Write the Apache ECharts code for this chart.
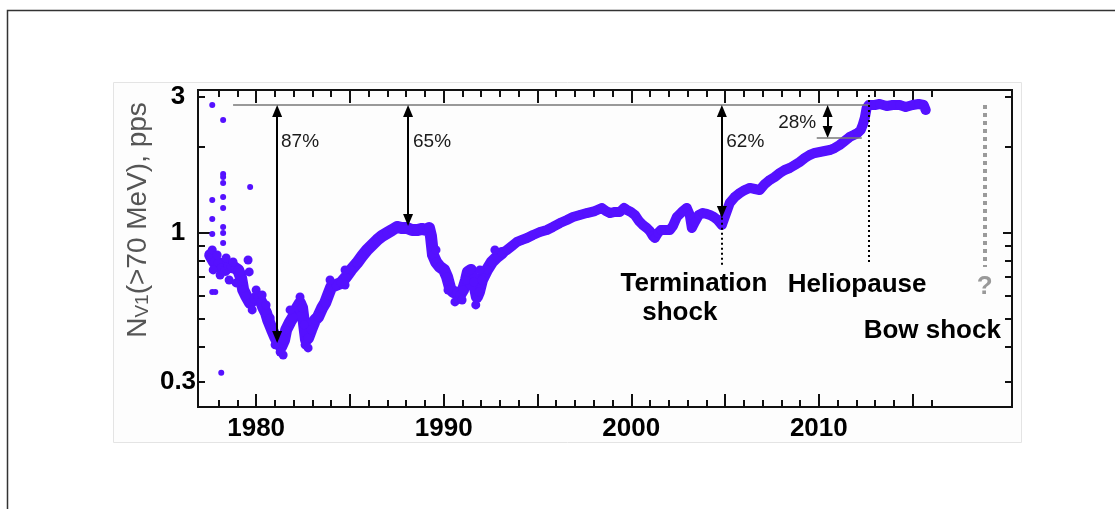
<!DOCTYPE html>
<html>
<head>
<meta charset="utf-8">
<script src="https://cdn.jsdelivr.net/npm/echarts@6/dist/echarts.min.js"></script>
<style>
  html, body { margin: 0; padding: 0; background: #ffffff; }
  #chart { width: 1115px; height: 509px; }
</style>
</head>
<body>
<div id="chart"></div>
<script>
// Voyager 1 count rate of protons above 70 MeV (pulses per second), by year.
const years = [
  1977.55, 1977.60, 1977.76, 1977.98, 1978.14, 1978.35, 1978.51, 1978.67, 1978.88, 1979.04,
  1979.20, 1979.31, 1979.47, 1979.68, 1979.89, 1980.11, 1980.27, 1980.37, 1980.53, 1980.64,
  1980.85, 1981.01, 1981.17, 1981.33, 1981.49, 1981.60, 1981.81, 1981.97, 1982.18, 1982.34,
  1982.45, 1982.56, 1982.66, 1982.77, 1982.93, 1983.14, 1983.30, 1983.52, 1983.68, 1983.84,
  1984.00, 1984.26, 1984.53, 1984.79, 1985.06, 1985.38, 1985.65, 1985.91, 1986.18, 1986.45,
  1986.71, 1986.98, 1987.25, 1987.51, 1987.78, 1988.04, 1988.31, 1988.58, 1988.84, 1989.11,
  1989.22, 1989.32, 1989.43, 1989.59, 1989.80, 1990.02, 1990.18, 1990.34, 1990.50, 1990.71,
  1990.87, 1991.03, 1991.19, 1991.29, 1991.45, 1991.61, 1991.77, 1991.88, 1992.04, 1992.31,
  1992.57, 1992.84, 1993.11, 1993.37, 1993.64, 1993.91, 1994.17, 1994.44, 1994.76, 1995.13,
  1995.50, 1995.82, 1996.20, 1996.57, 1996.89, 1997.26, 1997.63, 1998.06, 1998.43, 1998.65,
  1998.86, 1999.13, 1999.39, 1999.61, 1999.77, 1999.98, 2000.19, 2000.41, 2000.62, 2000.83,
  2000.99, 2001.15, 2001.26, 2001.42, 2001.58, 2001.79, 2002.06, 2002.22, 2002.43, 2002.70,
  2002.96, 2003.12, 2003.23, 2003.39, 2003.60, 2003.81, 2004.03, 2004.19, 2004.40, 2004.61,
  2004.83, 2005.04, 2005.25, 2005.52, 2005.79, 2006.05, 2006.32, 2006.59, 2006.85, 2007.12,
  2007.39, 2007.65, 2007.92, 2008.18, 2008.45, 2008.72, 2008.98, 2009.25, 2009.51, 2009.78,
  2010.05, 2010.31, 2010.58, 2010.84, 2011.11, 2011.38, 2011.64, 2011.86, 2012.07, 2012.23,
  2012.34, 2012.45, 2012.55, 2012.66, 2012.98, 2013.24, 2013.62, 2013.94, 2014.31, 2014.63,
  2015.00, 2015.32, 2015.59, 2015.70
];
const counts = [
  0.837, 0.824, 0.791, 0.785, 0.754, 0.742, 0.766, 0.760, 0.754, 0.742,
  0.695, 0.631, 0.601, 0.568, 0.587, 0.596, 0.573, 0.550, 0.524, 0.495,
  0.457, 0.432, 0.411, 0.398, 0.421, 0.457, 0.487, 0.507, 0.546, 0.568,
  0.546, 0.476, 0.421, 0.428, 0.457, 0.495, 0.507, 0.546, 0.568, 0.606,
  0.646, 0.657, 0.668, 0.701, 0.742, 0.785, 0.830, 0.872, 0.908, 0.945,
  0.976, 1.000, 1.024, 1.050, 1.041, 1.041, 1.024, 1.024, 1.033, 1.024,
  1.041, 0.976, 0.837, 0.791, 0.760, 0.742, 0.701, 0.641, 0.621, 0.616,
  0.606, 0.631, 0.684, 0.730, 0.742, 0.673, 0.596, 0.621, 0.684, 0.742,
  0.791, 0.824, 0.851, 0.872, 0.900, 0.930, 0.945, 0.960, 0.984, 1.008,
  1.024, 1.050, 1.084, 1.111, 1.138, 1.157, 1.175, 1.194, 1.224, 1.194,
  1.175, 1.185, 1.185, 1.224, 1.204, 1.185, 1.157, 1.102, 1.067, 1.041,
  1.016, 0.976, 0.960, 1.000, 1.024, 1.024, 1.024, 1.058, 1.138, 1.185,
  1.224, 1.157, 1.041, 1.093, 1.157, 1.175, 1.166, 1.157, 1.138, 1.111,
  1.067, 1.166, 1.274, 1.338, 1.381, 1.415, 1.439, 1.427, 1.415, 1.485,
  1.535, 1.572, 1.624, 1.664, 1.691, 1.732, 1.775, 1.833, 1.878, 1.909,
  1.924, 1.940, 1.955, 1.987, 2.036, 2.103, 2.172, 2.207, 2.243, 2.298,
  2.393, 2.533, 2.746, 2.813, 2.813, 2.836, 2.790, 2.813, 2.813, 2.768,
  2.813, 2.836, 2.813, 2.702
];

// Isolated early readings away from the main band.
const strayYears  = [1977.66, 1978.24, 1978.24, 1978.24, 1978.24, 1979.68, 1977.66, 1978.24, 1978.24,
                     1977.66, 1978.24, 1978.24, 1977.66, 1978.24, 1977.66, 1977.82, 1978.14];
const strayCounts = [2.813, 2.492, 1.611, 1.572, 1.497, 1.450, 1.306, 1.338, 1.224,
                     1.120, 1.050, 1.000, 0.992, 0.922, 0.621, 0.621, 0.323];

// Readings at the edges of the band where the scatter is widest.
const spreadYears  = [1977.66, 1977.71, 1977.92, 1978.08, 1978.40, 1978.56, 1978.77, 1978.93, 1979.15, 1979.57,
                      1979.63, 1979.79, 1980.00, 1980.32, 1980.53, 1980.75, 1981.01, 1981.28, 1981.44, 1981.81,
                      1982.34, 1982.61, 1982.77, 1983.94, 1984.74, 1984.74, 1989.59, 1990.23, 1990.60, 1990.98,
                      1991.71, 1991.93, 1992.73];
const spreadCounts = [0.872, 0.742, 0.837, 0.712, 0.817, 0.684, 0.791, 0.668, 0.730, 0.804,
                      0.730, 0.537, 0.631, 0.606, 0.559, 0.503, 0.405, 0.382, 0.373, 0.537,
                      0.596, 0.405, 0.395, 0.684, 0.657, 0.742, 0.872, 0.631, 0.573, 0.582,
                      0.559, 0.742, 0.872];

// Axis ticks and labels.
const xLabelYears = [1980, 1990, 2000, 2010];
const xMajorYears = [1980, 1985, 1990, 1995, 2000, 2005, 2010, 2015];
const xMinorYears = [1978, 1979, 1981, 1982, 1983, 1984, 1986, 1987, 1988, 1989, 1991, 1992, 1993, 1994,
                     1996, 1997, 1998, 1999, 2001, 2002, 2003, 2004, 2006, 2007, 2008, 2009, 2011, 2012,
                     2013, 2014, 2016];
const yLabelValues = [0.3, 1, 3];
const yMajorValues = [1];
const yMinorValues = [0.3, 0.4, 0.5, 0.6, 0.7, 0.8, 0.9, 2, 3];

// Count rate beyond the heliopause, and the depressions measured against it.
const outsideLevel = 2.813;
const dropYears   = [1981.12, 1988.10, 2004.83, 2010.47];
const dropLows    = [0.411, 1.058, 1.129, 2.154];
const dropLabels  = ['87%', '65%', '62%', '28%'];

// Boundary crossings.
const terminationShockYear = 2004.83;
const heliopauseYear = 2012.66;
const bowShockYear = 2018.84;

// The band is wider through the noisy early years.
const noisyUntil = 1993.11;

const FONT = '"Liberation Sans", Arial, Helvetica, sans-serif';
const BAND = '#5511ff';
const X_MIN = 1976.9, X_MAX = 2020.3;
const Y_MIN = 0.245, Y_MAX = 3.176;

function xAxisDef(position, ticks, len, labels) {
  return {
    type: 'value', position: position, min: X_MIN, max: X_MAX,
    axisLine: { show: false }, splitLine: { show: false },
    axisTick: { show: true, inside: true, length: len, customValues: ticks,
                lineStyle: { color: '#111', width: 2 } },
    axisLabel: labels ? {
      show: true, customValues: labels, margin: 9, fontSize: 26, fontWeight: 'bold',
      color: '#000', fontFamily: FONT,
      formatter: function (v) { return String(Math.round(v)); }
    } : { show: false }
  };
}
function yAxisDef(position, ticks, len, labels) {
  return {
    type: 'log', logBase: 10, position: position, min: Y_MIN, max: Y_MAX,
    axisLine: { show: false }, splitLine: { show: false },
    axisTick: { show: true, inside: true, length: len, customValues: ticks,
                lineStyle: { color: '#111', width: 2 } },
    axisLabel: labels ? {
      show: true, customValues: labels, margin: 20, align: 'center',
      fontSize: 26, fontWeight: 'bold', color: '#000', fontFamily: FONT,
      formatter: function (v) { return String(Math.round(v * 10) / 10); }
    } : { show: false }
  };
}

const band = years.map(function (y, i) { return [y, counts[i]]; });
const bandEarly = band.filter(function (p) { return p[0] <= noisyUntil; });
const bandLate = band.filter(function (p) { return p[0] >= noisyUntil; });
const strays = strayYears.map(function (y, i) { return [y, strayCounts[i]]; });
const spread = spreadYears.map(function (y, i) { return [y, spreadCounts[i]]; });

// Arrow ends sit a little inside the measured levels so the heads touch them.
const headInset = 1.05;
function arrow(year, top, low) {
  return [
    { coord: [year, top / headInset], symbol: 'triangle' },
    { coord: [year, low * headInset], symbol: 'triangle' }
  ];
}
function segment(x1, y1, x2, y2, style) {
  return [{ coord: [x1, y1], lineStyle: style }, { coord: [x2, y2] }];
}

const blackArrow = { color: '#000', width: 2, type: 'solid' };
const markLines = [];
markLines.push(segment(1978.77, outsideLevel, heliopauseYear, outsideLevel,
                       { color: '#777', width: 1.5, type: 'solid' }));
dropYears.forEach(function (yr, i) {
  const a = arrow(yr, outsideLevel, dropLows[i]);
  a[0].lineStyle = blackArrow;
  markLines.push(a);
});
markLines.push(segment(2009.89, dropLows[3], 2012.29, dropLows[3],
                       { color: '#777', width: 1.5, type: 'solid' }));
markLines.push(segment(terminationShockYear, 1.13, terminationShockYear, 0.772,
                       { color: '#000', width: 2, type: [2, 3] }));
markLines.push(segment(heliopauseYear, 3.05, heliopauseYear, 0.772,
                       { color: '#000', width: 2, type: [2, 3] }));
markLines.push(segment(bowShockYear, outsideLevel, bowShockYear, 0.76,
                       { color: '#9a9a9a', width: 4, type: [4, 4] }));

const pctStyle = { fontSize: 19, color: '#1a1a1a', fontFamily: FONT, opacity: 1 };
const tagStyle = { fontSize: 26, fontWeight: 'bold', color: '#000', fontFamily: FONT, opacity: 1 };
const notes = [
  { value: [1982.34, 2.087], name: dropLabels[0], label: pctStyle },
  { value: [1989.38, 2.087], name: dropLabels[1], label: pctStyle },
  { value: [2006.08, 2.087], name: dropLabels[2], label: pctStyle },
  { value: [2008.85, 2.434], name: dropLabels[3], label: pctStyle },
  { value: [2003.34, 0.662], name: 'Termination', label: tagStyle },
  { value: [2002.59, 0.524], name: 'shock', label: tagStyle },
  { value: [2012.04, 0.657], name: 'Heliopause', label: tagStyle },
  { value: [2016.05, 0.453], name: 'Bow shock', label: tagStyle },
  { value: [bowShockYear, 0.646], name: '?',
    label: { fontSize: 26, fontWeight: 'bold', color: '#999', fontFamily: FONT, opacity: 1 } }
];

const dot = { color: BAND, opacity: 1 };

const chart = echarts.init(document.getElementById('chart'), null, { renderer: 'canvas' });
chart.setOption({
  animation: false,
  backgroundColor: '#ffffff',
  grid: {
    left: 198, right: 103, top: 90, bottom: 102,
    show: true, borderColor: '#111', borderWidth: 2, backgroundColor: 'transparent'
  },
  xAxis: [
    xAxisDef('bottom', xMajorYears, 13, xLabelYears),
    xAxisDef('bottom', xMinorYears, 7, null),
    xAxisDef('top', xMajorYears, 13, null),
    xAxisDef('top', xMinorYears, 7, null)
  ],
  yAxis: [
    yAxisDef('left', yMinorValues, 7, yLabelValues),
    yAxisDef('left', yMajorValues, 13, null),
    yAxisDef('right', yMinorValues, 7, null),
    yAxisDef('right', yMajorValues, 9, null)
  ],
  graphic: [
    { type: 'polyline', z: 100, silent: true,
      shape: { points: [[7.5, 509], [7.5, 10.5], [1115, 10.5]] },
      style: { stroke: '#333', lineWidth: 1.5, fill: null } },
    { type: 'rect', z: -1, silent: true,
      shape: { x: 113.5, y: 82.5, width: 908, height: 360 },
      style: { stroke: '#e4e4e4', lineWidth: 1, fill: '#fdfdfd' } },
    { type: 'text', x: 138, y: 220, rotation: Math.PI / 2, silent: true, z: 100,
      style: {
        text: '{n|N}{s|V1}{t|(>70 MeV), pps}',
        align: 'center', verticalAlign: 'middle', fill: '#555',
        fontFamily: FONT, fontSize: 28,
        rich: {
          n: { fontSize: 28, fill: '#555', fontFamily: FONT, verticalAlign: 'bottom' },
          s: { fontSize: 19, lineHeight: 15, fill: '#555', fontFamily: FONT, verticalAlign: 'bottom' },
          t: { fontSize: 28, fill: '#555', fontFamily: FONT, verticalAlign: 'bottom' }
        }
      } }
  ],
  series: [
    {
      name: 'band early', type: 'line', data: bandEarly, showSymbol: false, z: 3,
      lineStyle: { color: BAND, width: 12, join: 'round', cap: 'round', opacity: 1 }
    },
    {
      name: 'band late', type: 'line', data: bandLate, showSymbol: false, z: 3,
      lineStyle: { color: BAND, width: 10, join: 'round', cap: 'round', opacity: 1 }
    },
    {
      name: 'band points', type: 'scatter', data: band, symbolSize: 9, z: 3,
      itemStyle: dot
    },
    {
      name: 'band spread', type: 'scatter', data: spread, symbolSize: 9, z: 3,
      itemStyle: dot
    },
    {
      name: 'stray points', type: 'scatter', data: strays, symbolSize: 6, z: 3,
      itemStyle: dot
    },
    {
      name: 'notes', type: 'scatter', data: notes, symbolSize: 0, z: 5, silent: true,
      itemStyle: { opacity: 1 },
      label: { show: true, position: 'inside', formatter: '{b}' },
      markLine: {
        silent: true, animation: false,
        symbol: ['none', 'none'], symbolSize: [10, 12],
        label: { show: false },
        lineStyle: { color: '#000', width: 2, type: 'solid' },
        data: markLines
      }
    }
  ]
});
</script>
</body>
</html>
